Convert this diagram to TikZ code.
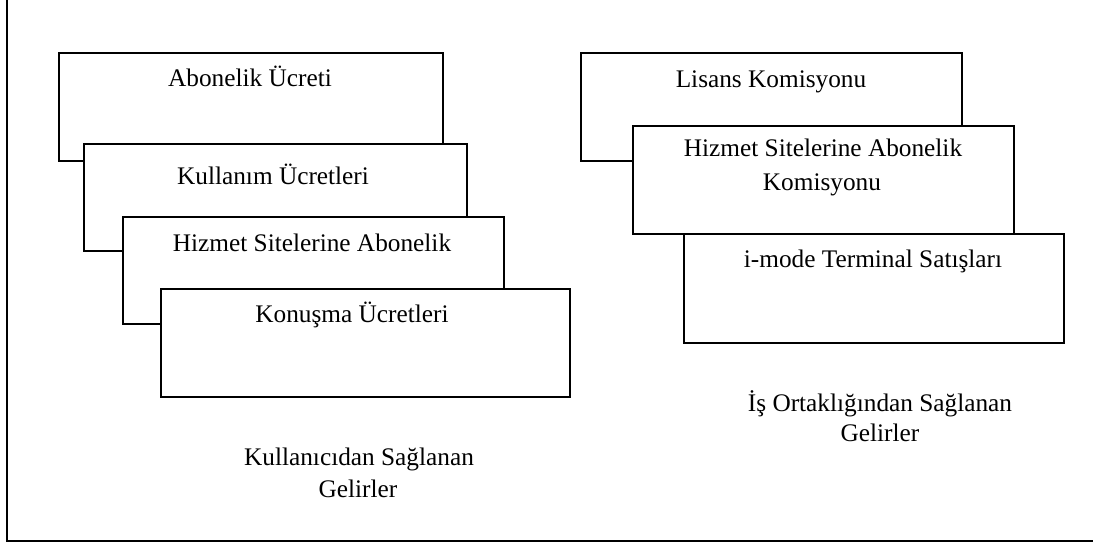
\documentclass[tikz,border=0pt]{standalone}
\usepackage{fontspec}
\setmainfont{Liberation Serif}
\begin{document}
\begin{tikzpicture}[x=1pt,y=-1pt,
  card/.style={draw=black, line width=2pt, fill=white, rectangle,
    inner sep=0pt, anchor=north west},
  lbl/.style={anchor=base, inner sep=0pt, font=\fontsize{25.3}{30}\selectfont}]
\useasboundingbox (0,0) rectangle (1093,545);

% frame: left and bottom edges only
\coordinate (ftop) at (7,0);
\coordinate (fcorner) at (7,541);
\coordinate (fright) at (1093,541);
\draw[line width=2pt] (ftop) -- (fcorner) -- (fright);

% revenue from users (left stack)
\node[card, minimum width=384pt, minimum height=108pt] (u1) at (58,52) {};
\node[lbl] (u1t) at (250,87) {Abonelik Ücreti};
\node[card, minimum width=383pt, minimum height=107pt] (u2) at (83,143) {};
\node[lbl] (u2t) at (273,185) {Kullanım Ücretleri};
\node[card, minimum width=381pt, minimum height=107pt] (u3) at (122,216) {};
\node[lbl] (u3t) at (312,252) {Hizmet Sitelerine Abonelik};
\node[card, minimum width=409pt, minimum height=108pt] (u4) at (160,288) {};
\node[lbl] (u4t) at (352,323) {Konuşma Ücretleri};

\node[lbl] (ucap1) at (359,465) {Kullanıcıdan Sağlanan};
\node[lbl] (ucap2) at (358,497) {Gelirler};

% revenue from partnerships (right stack)
\node[card, minimum width=381pt, minimum height=108pt] (p1) at (580,52) {};
\node[lbl] (p1t) at (771,88) {Lisans Komisyonu};
\node[card, minimum width=381pt, minimum height=108pt] (p2) at (632,125) {};
\node[lbl] (p2t) at (823,157) {Hizmet Sitelerine Abonelik};
\node[lbl] (p2u) at (822,191) {Komisyonu};
\node[card, minimum width=380pt, minimum height=109pt] (p3) at (683,233) {};
\node[lbl] (p3t) at (873,268) {i-mode Terminal Satışları};

\node[lbl] (pcap1) at (880,412) {İş Ortaklığından Sağlanan};
\node[lbl] (pcap2) at (880,442) {Gelirler};
\end{tikzpicture}
\end{document}
